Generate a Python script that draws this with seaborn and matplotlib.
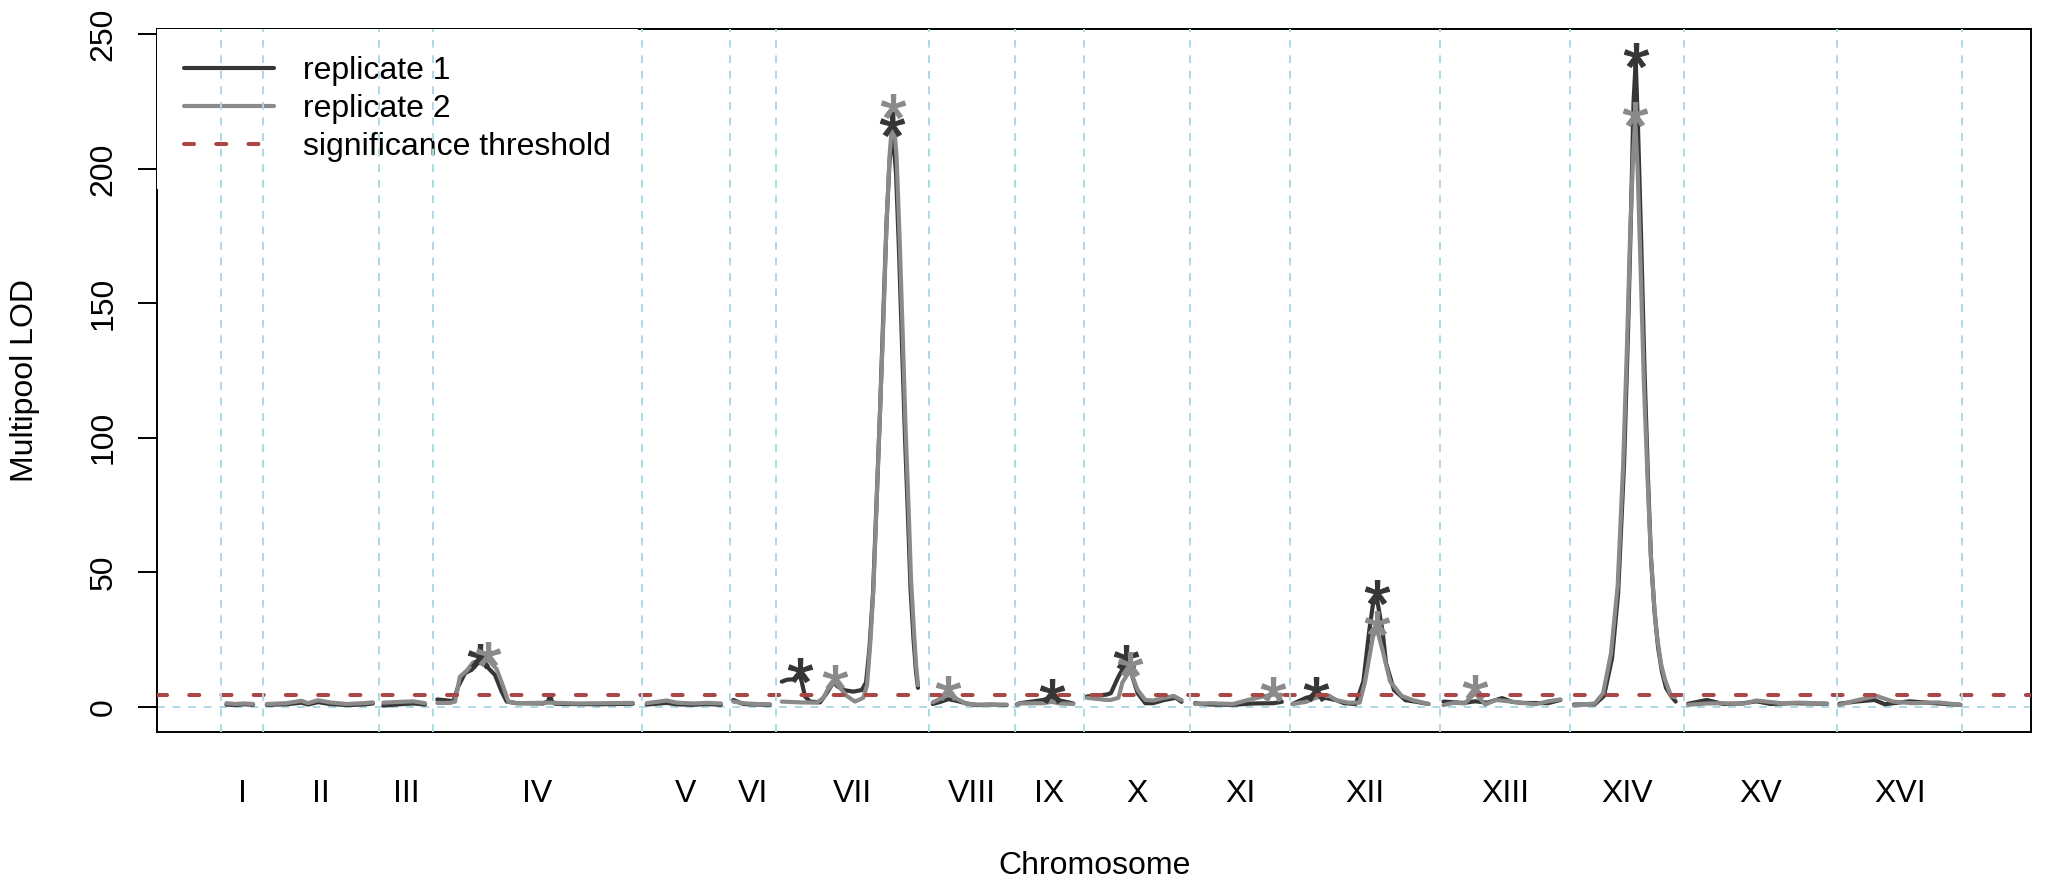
import numpy as np
import pandas as pd
import seaborn as sns
import matplotlib.pyplot as plt
from matplotlib.lines import Line2D
from matplotlib.path import Path
from matplotlib.textpath import TextPath
from matplotlib.font_manager import FontProperties
from matplotlib import transforms

# chromosome names and lengths (kb)
chroms = ["I", "II", "III", "IV", "V", "VI", "VII", "VIII",
          "IX", "X", "XI", "XII", "XIII", "XIV", "XV", "XVI"]
chrom_len = [295, 804, 370, 1450, 610, 317, 1062, 596,
             478, 735, 693, 1037, 905, 788, 1060, 868]
threshold = 4.5

# (position in chromosome kb, LOD) for each replicate
rep1 = {
    "I": [(40, 0.8), (100, 0.6), (160, 0.9), (225, 0.7)],
    "II": [(25, 0.7), (160, 0.9), (265, 1.5), (310, 0.8), (380, 1.7), (460, 1.0),
           (580, 0.6), (690, 0.8), (760, 1.2)],
    "III": [(28, 0.4), (143, 0.9), (236, 1.2), (317, 0.8)],
    "IV": [(32, 2.7), (120, 2.2), (143, 1.9), (177, 7.5), (224, 12.5), (270, 13.7),
           (305, 15.8), (328, 16.5), (374, 15.0), (432, 11.8), (478, 5.6), (513, 1.9),
           (582, 1.3), (767, 1.2), (800, 2.0), (813, 4.4), (826, 2.0), (848, 1.1),
           (929, 1.0), (1160, 0.9), (1387, 1.1)],
    "V": [(33, 0.8), (172, 1.4), (240, 0.9), (355, 0.7), (450, 1.0), (547, 0.7)],
    "VI": [(23, 2.5), (92, 1.0), (180, 0.8), (277, 0.7)],
    "VII": [(42, 9.3), (76, 10.0), (122, 10.2), (168, 11.5), (180, 9.3), (203, 3.8),
            (238, 1.9), (307, 1.6), (353, 5.0), (399, 9.0), (430, 7.5), (468, 6.2),
            (538, 5.6), (596, 6.2), (626, 9.0), (650, 22), (674, 42), (698, 75),
            (723, 110), (747, 148), (768, 180), (789, 203), (809, 214.6), (834, 198),
            (854, 170), (875, 135), (896, 100), (917, 70), (934, 44), (955, 25),
            (972, 13), (986, 7)],
    "VIII": [(26, 1.0), (80, 1.8), (134, 2.8), (190, 2.2), (261, 1.2), (330, 0.6),
             (420, 0.8), (538, 0.6)],
    "IX": [(12, 0.8), (35, 1.3), (196, 2.5), (254, 3.6), (312, 2.3), (404, 1.2)],
    "X": [(20, 3.8), (157, 4.5), (186, 5.0), (239, 11.2), (292, 16.3), (319, 14.0),
          (372, 5.0), (425, 1.3), (478, 1.3), (557, 2.5), (637, 3.3), (676, 1.8)],
    "XI": [(35, 1.3), (139, 0.8), (298, 0.7), (439, 1.2), (578, 1.3), (636, 1.8)],
    "XII": [(17, 1.0), (111, 3.3), (177, 4.2), (243, 3.3), (322, 2.4), (374, 1.3),
            (455, 1.0), (508, 9.4), (548, 28), (574, 38), (601, 40.5), (641, 28),
            (665, 16.2), (720, 6.2), (800, 2.4), (879, 1.8), (959, 1.0)],
    "XIII": [(26, 1.9), (167, 1.4), (245, 2.0), (330, 1.5), (432, 3.2), (500, 1.8),
             (575, 1.4), (750, 1.3), (836, 2.5)],
    "XIV": [(26, 0.8), (170, 0.9), (233, 4), (289, 18), (331, 42), (372, 90),
            (400, 140), (421, 185), (438, 225), (453, 240), (469, 215), (490, 175),
            (514, 125), (538, 85), (559, 55), (584, 35), (608, 22), (635, 13),
            (663, 7), (700, 3.8), (730, 1.9)],
    "XV": [(28, 1.1), (157, 2.5), (271, 1.0), (400, 1.2), (502, 2.0), (600, 1.0),
           (750, 1.3), (991, 1.1)],
    "XVI": [(16, 1.1), (131, 1.9), (260, 2.5), (330, 0.9), (500, 2.0), (700, 1.2),
            (855, 0.7)],
}

rep2 = {
    "I": [(40, 1.3), (100, 1.0), (160, 1.2), (225, 1.0)],
    "II": [(25, 1.0), (160, 1.3), (265, 2.2), (310, 1.3), (380, 2.4), (460, 1.6),
           (580, 1.0), (690, 1.3), (760, 1.6)],
    "III": [(28, 1.5), (143, 1.8), (236, 2.0), (317, 1.3)],
    "IV": [(32, 1.4), (120, 1.4), (155, 1.9), (189, 11.2), (236, 13.4), (281, 16.5),
           (330, 17.0), (385, 17.5), (443, 14.0), (489, 7.5), (524, 1.9), (582, 1.3),
           (813, 1.5), (1000, 1.2), (1160, 1.3), (1387, 1.4)],
    "V": [(33, 1.3), (172, 2.3), (240, 1.5), (355, 1.2), (450, 1.4), (547, 1.2)],
    "VI": [(23, 1.9), (92, 1.3), (180, 1.0), (277, 0.9)],
    "VII": [(42, 1.9), (168, 1.6), (284, 1.5), (330, 3.2), (376, 8.0), (411, 9.0),
            (446, 7.0), (492, 4.0), (549, 1.9), (607, 3.3), (633, 8), (657, 25),
            (678, 45), (702, 80), (723, 110), (747, 145), (768, 180), (789, 205),
            (813, 221), (837, 205), (858, 175), (879, 140), (899, 105), (920, 75),
            (937, 48), (958, 28), (972, 16), (986, 8)],
    "VIII": [(26, 1.6), (80, 3.0), (134, 4.6), (190, 3.0), (261, 1.0), (330, 0.8),
             (420, 0.6), (538, 0.8)],
    "IX": [(12, 1.0), (35, 1.2), (196, 1.3), (254, 1.8), (312, 1.2), (404, 1.0)],
    "X": [(20, 3.3), (157, 2.5), (186, 2.5), (239, 3.3), (266, 9.0), (319, 13.5),
          (372, 6.2), (425, 2.5), (478, 2.3), (557, 3.3), (623, 4.0), (676, 2.4)],
    "XI": [(35, 1.0), (139, 1.3), (298, 1.0), (393, 2.4), (508, 3.8), (578, 4.5),
           (636, 4.4)],
    "XII": [(17, 1.0), (111, 1.8), (177, 3.3), (270, 4.1), (322, 2.4), (402, 1.5),
            (482, 1.5), (520, 9.4), (574, 26), (601, 29), (641, 21), (693, 9.4),
            (773, 4.0), (853, 2.4), (959, 1.0)],
    "XIII": [(26, 0.6), (100, 1.5), (171, 1.2), (245, 5.0), (316, 0.8), (388, 2.5),
             (478, 2.0), (575, 1.4), (664, 0.9), (750, 2.0), (836, 2.7)],
    "XIV": [(26, 0.5), (170, 1.2), (227, 5), (282, 20), (328, 45), (366, 90),
            (393, 135), (414, 175), (435, 205), (449, 218), (466, 200), (486, 165),
            (510, 120), (535, 85), (557, 57), (580, 38), (601, 26), (628, 16),
            (656, 10), (698, 4), (725, 3.5)],
    "XV": [(28, 0.7), (157, 1.2), (271, 1.3), (400, 1.0), (502, 2.3), (672, 1.3),
           (800, 1.5), (991, 1.1)],
    "XVI": [(16, 0.7), (131, 2.3), (274, 4.0), (388, 1.9), (520, 1.3), (700, 1.6),
            (855, 0.7)],
}

# significant peaks (chromosome, kb) marked with an asterisk
peaks1 = [("IV", 328), ("VII", 168), ("VII", 809), ("IX", 254), ("X", 292),
          ("XII", 177), ("XII", 601), ("XIV", 453)]
peaks2 = [("IV", 385), ("VII", 411), ("VII", 813), ("VIII", 134), ("X", 319),
          ("XI", 578), ("XII", 601), ("XIII", 245), ("XIV", 449)]

dark = "#363636"
grey = "#8a8a8a"
red = "#ab4646"
lblue = "#add8e6"
fs = 23

bounds = np.concatenate([[0], np.cumsum(chrom_len)])
start = dict(zip(chroms, bounds[:-1]))
mids = bounds[:-1] + np.array(chrom_len) / 2

rows = []
for name, rep in [("replicate 1", rep1), ("replicate 2", rep2)]:
    for c, pts in rep.items():
        for kb, lod in pts:
            rows.append((name, c, start[c] + kb, lod))
df = pd.DataFrame(rows, columns=["rep", "chrom", "pos", "lod"])

sns.set_theme(style="ticks")
plt.rcParams["font.family"] = ["Liberation Sans", "DejaVu Sans"]
plt.rcParams["text.color"] = "black"
plt.rcParams["axes.labelcolor"] = "black"

fig = plt.figure(figsize=(20.49, 8.86), dpi=100)
ax = fig.add_axes([0.07677, 0.17415, 0.91459, 0.79312])

# chromosome boundaries (drawn over the legend, like abline after legend) and zero line
for b in bounds:
    ax.axvline(b, color=lblue, lw=1.4, dashes=(4, 4), zorder=6)
ax.axhline(0, color=lblue, lw=1.4, dashes=(4, 4), zorder=1)

sns.lineplot(data=df, x="pos", y="lod", hue="rep", units="chrom", estimator=None,
             palette=[dark, grey], lw=3.0, legend=False, sort=False, ax=ax,
             solid_capstyle="round", solid_joinstyle="round", zorder=2)

# asterisk marker from the glyph, centred
tp = TextPath((0, 0), "*", prop=FontProperties(family="Liberation Sans"))
verts = tp.vertices.copy()
ext = tp.get_extents()
ctr = ext.get_points().mean(axis=0)
verts[tp.codes == Path.CLOSEPOLY] = ctr
star = Path(verts - ctr, tp.codes)

lift = ax.transData + transforms.ScaledTranslation(0, 4.3 / 72, fig.dpi_scale_trans)
for peaks, rep, col in [(peaks1, rep1, dark), (peaks2, rep2, grey)]:
    px = [start[c] + kb for c, kb in peaks]
    py = [dict(rep[c])[kb] for c, kb in peaks]
    ax.scatter(px, py, marker=star, s=17.5 ** 2, color=col, edgecolors=col,
               linewidths=0.8, zorder=3, transform=lift)

ax.axhline(threshold, color=red, lw=2.9, dashes=(2.5, 5.5),
           dash_capstyle="round", zorder=4)

ax.set_xlim(-439, 12546)
ax.set_ylim(-9.3, 252)
ax.set_yticks([0, 50, 100, 150, 200, 250])
ax.set_xticks(mids)
ax.set_xticklabels(chroms)
ax.tick_params(axis="x", length=0, pad=34, labelsize=fs, colors="black")
ax.tick_params(axis="y", length=13.7, width=1.4, pad=14.4, labelsize=fs,
               labelrotation=90, colors="black")
for t in ax.get_yticklabels():
    t.set_va("center")
for s in ax.spines.values():
    s.set_visible(True)
    s.set_linewidth(1.4)
    s.set_color("black")

ax.set_xlabel("Chromosome", fontsize=fs, va="center")
ax.xaxis.set_label_coords(0.5, -0.1911)
ax.set_ylabel("Multipool LOD", fontsize=fs, va="center")
ax.yaxis.set_label_coords(-0.0705, 0.5)

handles = [Line2D([], [], color=dark, lw=3.0),
           Line2D([], [], color=grey, lw=3.0),
           Line2D([], [], color=red, lw=2.9, dashes=(2.5, 5.5), dash_capstyle="round")]
leg = ax.legend(handles, ["replicate 1", "replicate 2", "significance threshold"],
                loc="upper left", bbox_to_anchor=(0, 1), borderaxespad=0,
                fontsize=fs, frameon=True, fancybox=False, framealpha=1,
                facecolor="white", edgecolor="none", borderpad=0.85,
                labelspacing=0.25, handlelength=2.8, handletextpad=0.9)
leg.set_zorder(5)

fig.savefig("out.png", dpi=100)
